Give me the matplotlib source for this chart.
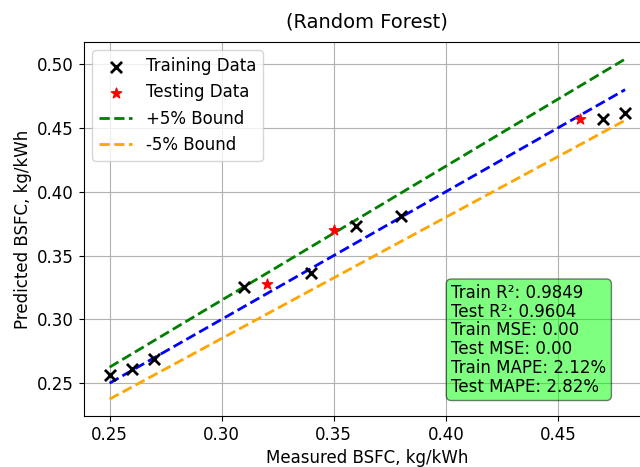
import numpy as np
import matplotlib
matplotlib.use("Agg")
import matplotlib.pyplot as plt

plt.rcParams['font.size'] = 12

# measured vs predicted BSFC (kg/kWh)
train_measured = [0.25, 0.26, 0.27, 0.31, 0.34, 0.36, 0.38, 0.47, 0.48]
train_predicted = [0.256, 0.261, 0.269, 0.325, 0.336, 0.373, 0.381, 0.457, 0.462]
test_measured = [0.32, 0.35, 0.46]
test_predicted = [0.328, 0.370, 0.457]

metrics = [
    ("Train R²", "0.9849"),
    ("Test R²", "0.9604"),
    ("Train MSE", "0.00"),
    ("Test MSE", "0.00"),
    ("Train MAPE", "2.12%"),
    ("Test MAPE", "2.82%"),
]

fig = plt.figure(figsize=(6.4, 4.67), dpi=100)
ax = fig.add_axes([0.131, 0.109, 0.886, 0.801])

ax.scatter(train_measured, train_predicted, marker='x', color='black', s=64,
           linewidths=2, label='Training Data', zorder=3)
ax.scatter(test_measured, test_predicted, marker='*', color='red', s=60,
           label='Testing Data', zorder=3)

all_x = np.array(train_measured + test_measured)
ref = np.array([all_x.min(), all_x.max()])
ax.plot(ref, ref, 'b--', lw=2)
ax.plot(ref, ref * 1.05, 'g--', lw=2, label='+5% Bound')
ax.plot(ref, ref * 0.95, '--', color='orange', lw=2, label='-5% Bound')

ax.set_xticks([0.25, 0.30, 0.35, 0.40, 0.45])
ax.set_yticks([0.25, 0.30, 0.35, 0.40, 0.45, 0.50])
ax.set_xlabel('Measured BSFC, kg/kWh')
ax.set_ylabel('Predicted BSFC, kg/kWh')
fig.text(0.573, 0.953, '(Random Forest)', fontsize=14, ha='center', va='center')
ax.grid(True)
ax.legend(loc='upper left')

stats = "\n".join(f"{k}: {v}" for k, v in metrics)
ax.text(0.648, 0.055, stats, transform=ax.transAxes, va='bottom', ha='left',
        linespacing=1.05,
        bbox=dict(boxstyle='round', facecolor='lime', alpha=0.5))

fig.savefig('out.png', dpi=100)
